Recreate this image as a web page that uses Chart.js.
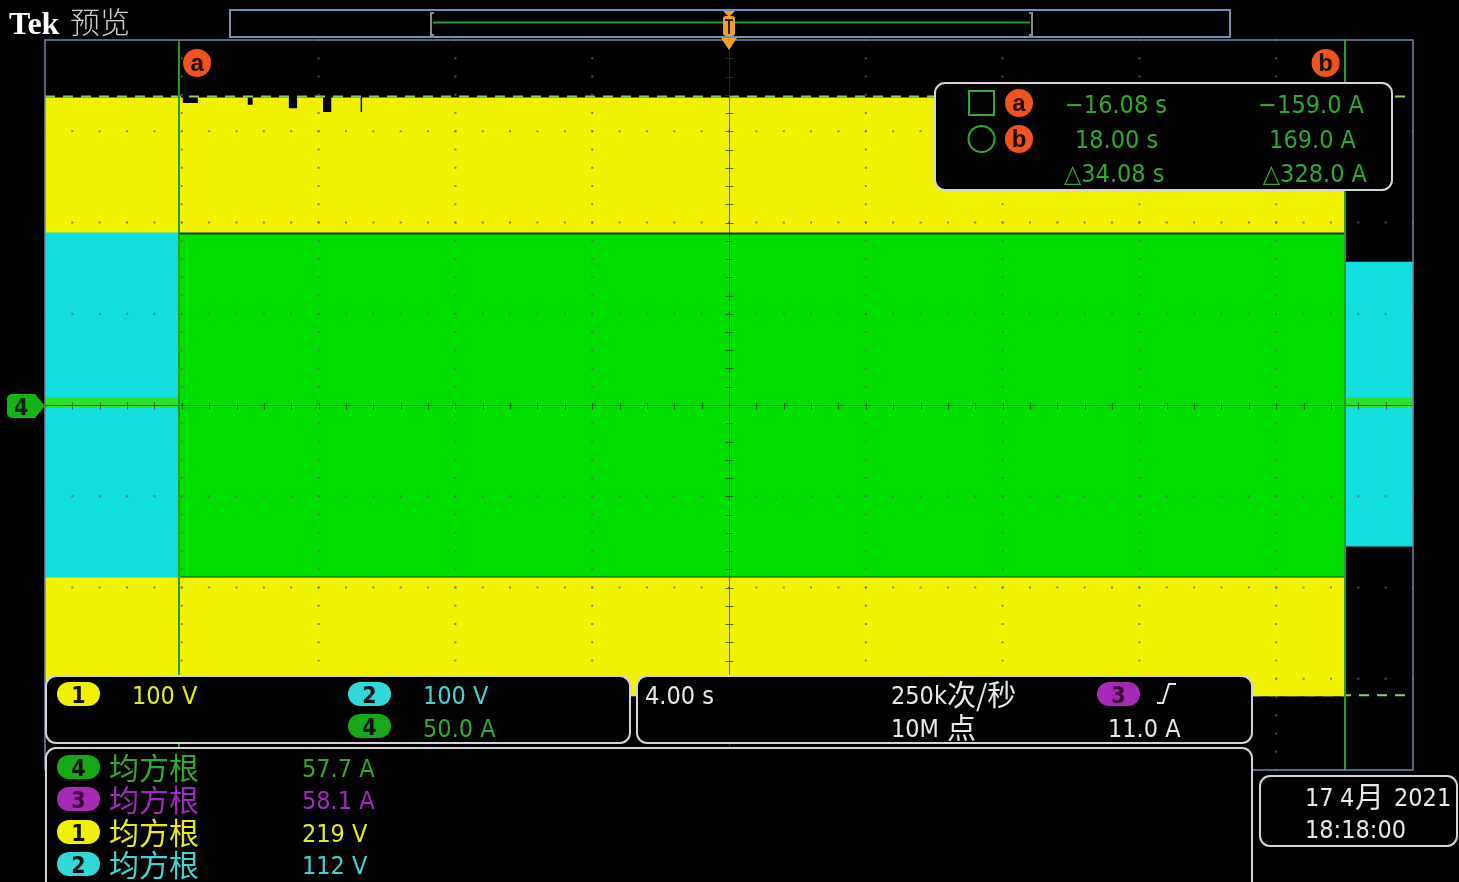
<!DOCTYPE html>
<html>
<head>
<meta charset="utf-8">
<script src="https://cdn.jsdelivr.net/npm/chart.js@4"></script>
<style>
  html, body { margin: 0; padding: 0; background: #000; }
  canvas { display: block; }
</style>
</head>
<body>
<canvas id="scope" width="1459" height="882"></canvas>
<script>
// time in s (4 s/div), vertical in ch4 amps (50 A/div)
const ch1Time   = [-20, -16.0, -16.0, -15.5, -15.5, -14.1, -14.1, -13.9, -13.9, -12.9, -12.9, -12.6, -12.6, -11.9, -11.9, -11.6, -11.6, -10.8, -10.8, -10.7, -10.7, 18];
const ch1Top    = [168, 168, 165, 165, 168, 168, 164, 164, 168, 168, 162, 162, 168, 168, 160, 160, 168, 168, 160, 160, 168, 168];
const ch1Bottom = [-159, -159, -159, -159, -159, -159, -159, -159, -159, -159, -159, -159, -159, -159, -159, -159, -159, -159, -159, -159, -159, -159];

const ch4Time   = [-16.08, 18];
const ch4Top    = [94, 94];
const ch4Bottom = [-94, -94];

const ch4IdleLeftTime  = [-20, -16.08];
const ch4IdleRightTime = [18, 20];
const ch4Idle          = [1.5, 1.5];

const ch2LeftTime    = [-20, -16.08];
const ch2LeftTop     = [94, 94];
const ch2LeftBottom  = [-94, -94];
const ch2RightTime   = [18, 20];
const ch2RightTop    = [78, 78];
const ch2RightBottom = [-77, -77];

const cursorTimes = [-16.08, 18.00];
const cursorAmps  = [-159.0, 169.0];

const chanLabels = ["100 V", "100 V", "50.0 A"];
const rmsLabels  = ["57.7 A", "58.1 A", "219 V", "112 V"];

const YEL = "#f2f200", GRN = "#00e000", CYN = "#12dede";
const TXT_Y = "#e8e820", TXT_C = "#40d4d4", TXT_G = "#2eaa2e", TXT_M = "#a428c0";

function pts(xs, ys) { return xs.map((x, i) => ({ x: x, y: ys[i] })); }

function band(xs, top, bottom, color, edge) {
  return [
    { data: pts(xs, top), backgroundColor: color, borderColor: edge, borderWidth: 2, fill: "+1" },
    { data: pts(xs, bottom), borderColor: edge, borderWidth: 2, fill: false }
  ];
}

function rrect(ctx, x, y, w, h, r) {
  ctx.beginPath();
  ctx.moveTo(x + r, y);
  ctx.lineTo(x + w - r, y);
  ctx.arcTo(x + w, y, x + w, y + r, r);
  ctx.lineTo(x + w, y + h - r);
  ctx.arcTo(x + w, y + h, x + w - r, y + h, r);
  ctx.lineTo(x + r, y + h);
  ctx.arcTo(x, y + h, x, y + h - r, r);
  ctx.lineTo(x, y + r);
  ctx.arcTo(x, y, x + r, y, r);
  ctx.closePath();
}

function panel(ctx, x, y, w, h) {
  rrect(ctx, x, y, w, h, 10);
  ctx.fillStyle = "#000";
  ctx.fill();
  ctx.strokeStyle = "#d4d4d4";
  ctx.lineWidth = 2;
  ctx.stroke();
}

function pill(ctx, x, cy, color, label, textColor) {
  rrect(ctx, x, cy - 12, 43, 24, 12);
  ctx.fillStyle = color;
  ctx.fill();
  ctx.fillStyle = textColor || "#111";
  ctx.font = "bold 23px 'DejaVu Sans Condensed', sans-serif";
  ctx.textAlign = "center";
  ctx.fillText(label, x + 21.5, cy + 9);
  ctx.textAlign = "left";
}

function orangeTag(ctx, cx, cy, letter) {
  ctx.beginPath();
  ctx.arc(cx, cy, 14, 0, Math.PI * 2);
  ctx.fillStyle = "#f0541c";
  ctx.fill();
  ctx.fillStyle = "#1a0800";
  ctx.font = "bold 24px 'Liberation Sans', sans-serif";
  ctx.textAlign = "center";
  ctx.fillText(letter, cx, cy + 8);
  ctx.textAlign = "left";
}

const LAT = "25px 'DejaVu Sans Condensed', sans-serif";
const CJK = "29px 'Noto Sans CJK SC', sans-serif";

function txt(ctx, s, x, y, color, font) {
  ctx.font = font || LAT;
  ctx.fillStyle = color;
  ctx.fillText(s, x, y);
}

const cursorLines = {
  id: "cursorLines",
  beforeDatasetsDraw(chart) {
    const ctx = chart.ctx, a = chart.chartArea, ys = chart.scales.y;
    ctx.save();
    ctx.strokeStyle = "#8ccf6a";
    ctx.lineWidth = 2;
    ctx.setLineDash([10, 8]);
    cursorAmps.forEach(v => {
      const py = ys.getPixelForValue(v);
      ctx.beginPath(); ctx.moveTo(a.left, py); ctx.lineTo(a.right, py); ctx.stroke();
    });
    ctx.restore();
  }
};

const screenDecor = {
  id: "screenDecor",
  afterDatasetsDraw(chart) {
    const ctx = chart.ctx, a = chart.chartArea, xs = chart.scales.x, ys = chart.scales.y;
    ctx.save();
    // graticule dots
    ctx.fillStyle = "rgba(100,100,100,0.8)";
    for (let t = -16; t <= 16; t += 4) {
      if (t === 0) continue;
      const px = xs.getPixelForValue(t);
      for (let v = -200; v <= 200; v += 10) ctx.fillRect(px - 1, ys.getPixelForValue(v) - 1, 2, 2);
    }
    for (let v = -150; v <= 150; v += 50) {
      if (v === 0) continue;
      const py = ys.getPixelForValue(v);
      for (let t = -20; t <= 20.01; t += 0.8) ctx.fillRect(xs.getPixelForValue(t) - 1, py - 1, 2, 2);
    }
    // center crosshair
    const x0 = Math.round(xs.getPixelForValue(0)) + 0.5, y0 = Math.round(ys.getPixelForValue(0)) + 0.5;
    ctx.strokeStyle = "rgba(40,60,40,0.75)";
    ctx.lineWidth = 1;
    ctx.beginPath();
    ctx.moveTo(a.left, y0); ctx.lineTo(a.right, y0);
    ctx.moveTo(x0, a.top); ctx.lineTo(x0, a.bottom);
    for (let t = -20; t <= 20.01; t += 0.8) {
      const px = Math.round(xs.getPixelForValue(t)) + 0.5;
      ctx.moveTo(px, y0 - 3); ctx.lineTo(px, y0 + 4);
    }
    for (let v = -200; v <= 200; v += 10) {
      const py = Math.round(ys.getPixelForValue(v)) + 0.5;
      ctx.moveTo(x0 - 4, py); ctx.lineTo(x0 + 4, py);
    }
    ctx.stroke();
    // vertical cursors
    ctx.strokeStyle = "#1ea01e";
    ctx.lineWidth = 2;
    cursorTimes.forEach(t => {
      const px = Math.round(xs.getPixelForValue(t));
      ctx.beginPath(); ctx.moveTo(px, a.top); ctx.lineTo(px, a.bottom); ctx.stroke();
    });
    ctx.restore();
  },
  afterDraw(chart) {
    const ctx = chart.ctx, a = chart.chartArea, xs = chart.scales.x;
    ctx.save();
    ctx.textBaseline = "alphabetic";
    // frame
    ctx.strokeStyle = "#6d88ac";
    ctx.lineWidth = 1.5;
    ctx.strokeRect(a.left, a.top, a.right - a.left, a.bottom - a.top);

    // cursor tags
    orangeTag(ctx, xs.getPixelForValue(cursorTimes[0]) + 18, 63, "a");
    orangeTag(ctx, xs.getPixelForValue(cursorTimes[1]) - 19, 63, "b");

    // title
    txt(ctx, "Tek", 9, 34, "#fff", "bold 32px 'Liberation Serif', serif");
    txt(ctx, "预览", 70, 33, "#cfcfcf", "300 30px 'Noto Sans CJK SC', sans-serif");

    // record bar
    ctx.fillStyle = "#000";
    ctx.fillRect(230, 10, 1000, 27);
    ctx.strokeStyle = "#7090b8";
    ctx.lineWidth = 2;
    ctx.strokeRect(230, 10, 1000, 27);
    ctx.strokeStyle = "#8a8a8a";
    ctx.beginPath();
    ctx.moveTo(434, 13); ctx.lineTo(431, 13); ctx.lineTo(431, 35); ctx.lineTo(434, 35);
    ctx.moveTo(1029, 13); ctx.lineTo(1032, 13); ctx.lineTo(1032, 35); ctx.lineTo(1029, 35);
    ctx.stroke();
    ctx.strokeStyle = "#2a9a2a";
    ctx.beginPath(); ctx.moveTo(433, 22.5); ctx.lineTo(1030, 22.5); ctx.stroke();
    const tx = xs.getPixelForValue(0);
    ctx.fillStyle = "#f2a020";
    ctx.beginPath(); ctx.moveTo(tx - 6, 11); ctx.lineTo(tx + 6, 11); ctx.lineTo(tx, 17); ctx.fill();
    rrect(ctx, tx - 6, 16, 12, 20, 3); ctx.fill();
    ctx.beginPath(); ctx.moveTo(tx - 8, 38); ctx.lineTo(tx + 8, 38); ctx.lineTo(tx, 50); ctx.fill();
    ctx.fillStyle = "#222";
    ctx.fillRect(tx - 4, 19, 8, 2);
    ctx.fillRect(tx - 1, 19, 2, 15);

    // ch4 ground marker
    ctx.fillStyle = "#14b414";
    ctx.beginPath();
    ctx.moveTo(12, 394); ctx.lineTo(35, 394); ctx.lineTo(45, 406); ctx.lineTo(35, 418); ctx.lineTo(12, 418);
    ctx.arcTo(7, 418, 7, 412, 5); ctx.lineTo(7, 399); ctx.arcTo(7, 394, 12, 394, 5);
    ctx.fill();
    txt(ctx, "4", 14, 415, "#0a200a", "bold 23px 'DejaVu Sans Condensed', sans-serif");

    // cursor readout
    panel(ctx, 935, 83, 457, 107);
    ctx.strokeStyle = TXT_G;
    ctx.lineWidth = 2;
    ctx.strokeRect(969, 91, 25, 24);
    ctx.beginPath(); ctx.arc(981.5, 139, 13, 0, Math.PI * 2); ctx.stroke();
    orangeTag(ctx, 1019, 103, "a");
    orangeTag(ctx, 1019, 139, "b");
    txt(ctx, "\u221216.08 s", 1065, 113, TXT_G);
    txt(ctx, "18.00 s", 1075, 148, TXT_G);
    txt(ctx, "\u25b334.08 s", 1064, 182, TXT_G);
    ctx.textAlign = "right";
    txt(ctx, "\u2212159.0 A", 1364, 113, TXT_G);
    txt(ctx, "169.0 A", 1356, 148, TXT_G);
    txt(ctx, "\u25b3328.0 A", 1367, 182, TXT_G);
    ctx.textAlign = "left";

    // vertical settings
    panel(ctx, 46, 676, 584, 67);
    pill(ctx, 57, 694, "#f0f000", "1");
    txt(ctx, chanLabels[0], 132, 704, TXT_Y);
    pill(ctx, 348, 694, "#30d8d8", "2");
    txt(ctx, chanLabels[1], 423, 704, TXT_C);
    pill(ctx, 348, 726, "#16a816", "4");
    txt(ctx, chanLabels[2], 423, 737, TXT_G);

    // horizontal / trigger
    panel(ctx, 637, 676, 615, 67);
    txt(ctx, "4.00 s", 645, 704, "#e8e8e8");
    txt(ctx, "250k", 891, 704, "#e8e8e8");
    txt(ctx, "次/秒", 947, 706, "#e8e8e8", CJK);
    txt(ctx, "10M", 891, 737, "#e8e8e8");
    txt(ctx, "点", 947, 739, "#e8e8e8", CJK);
    pill(ctx, 1097, 694, "#a828b8", "3", "#3a003a");
    ctx.strokeStyle = "#e8e8e8";
    ctx.lineWidth = 2;
    ctx.beginPath();
    ctx.moveTo(1157, 703); ctx.lineTo(1163, 703); ctx.lineTo(1169, 684); ctx.lineTo(1176, 684);
    ctx.stroke();
    txt(ctx, "11.0 A", 1108, 737, "#e8e8e8");

    // measurements
    panel(ctx, 46, 748, 1206, 150);
    const rows = [
      { c: 767, pillColor: "#16a816", n: "4", col: TXT_G },
      { c: 799, pillColor: "#a828b8", n: "3", col: TXT_M },
      { c: 832, pillColor: "#f0f000", n: "1", col: TXT_Y },
      { c: 864, pillColor: "#30d8d8", n: "2", col: TXT_C }
    ];
    rows.forEach((r, i) => {
      pill(ctx, 57, r.c, r.pillColor, r.n, r.n === "3" ? "#3a003a" : "#111");
      txt(ctx, "均方根", 109, r.c + 12, r.col, "30px 'Noto Sans CJK SC', sans-serif");
      txt(ctx, rmsLabels[i], 302, r.c + 10, r.col);
    });

    // date
    panel(ctx, 1260, 776, 197, 70);
    txt(ctx, "17", 1305, 806, "#e8e8e8");
    txt(ctx, "4", 1340, 806, "#e8e8e8");
    txt(ctx, "月", 1355, 808, "#e8e8e8", CJK);
    txt(ctx, "2021", 1394, 806, "#e8e8e8");
    txt(ctx, "18:18:00", 1305, 838, "#e8e8e8");

    ctx.restore();
  }
};

const datasets = [
  { data: pts(ch4IdleLeftTime, ch4Idle), borderColor: "#2ce02c", borderWidth: 10, fill: false },
  { data: pts(ch4IdleRightTime, ch4Idle), borderColor: "#2ce02c", borderWidth: 10, fill: false },
  ...band(ch4Time, ch4Top, ch4Bottom, GRN, "#0b3a14"),
  ...band(ch2LeftTime, ch2LeftTop, ch2LeftBottom, CYN, CYN),
  ...band(ch2RightTime, ch2RightTop, ch2RightBottom, CYN, CYN),
  ...band(ch1Time, ch1Top, ch1Bottom, YEL, YEL)
];

new Chart(document.getElementById("scope"), {
  type: "scatter",
  data: { datasets: datasets.map(d => Object.assign({ showLine: true, pointRadius: 0, tension: 0 }, d)) },
  options: {
    responsive: false,
    devicePixelRatio: 1,
    animation: false,
    layout: { padding: { left: 45, top: 40, right: 46, bottom: 112 } },
    plugins: { legend: { display: false }, tooltip: { enabled: false } },
    scales: {
      x: { type: "linear", min: -20, max: 20, display: false },
      y: { type: "linear", min: -200, max: 200, display: false }
    }
  },
  plugins: [cursorLines, screenDecor]
});
</script>
</body>
</html>
